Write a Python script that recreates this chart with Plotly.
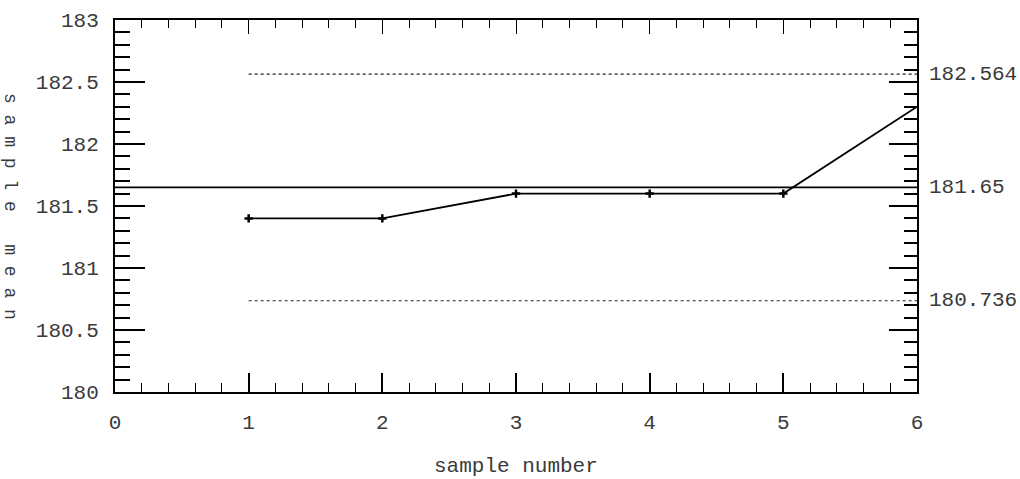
import plotly.graph_objects as go

# Sample means per sample number
sample_no = [1, 2, 3, 4, 5, 6]
sample_mean = [181.4, 181.4, 181.6, 181.6, 181.6, 182.3]

# Control chart limits
center_line = 181.65
upper_limit = 182.564
lower_limit = 180.736
limit_labels = ["182.564", "181.65", "180.736"]

FONT = dict(family="Liberation Mono, DejaVu Sans Mono, monospace", size=21, color="#3a3a3a")

fig = go.Figure()

# Centre line across the full width
fig.add_trace(go.Scatter(x=[0, 6], y=[center_line, center_line], mode="lines",
                         line=dict(color="black", width=1.6), hoverinfo="skip"))
# Dotted control limits
for lim in (upper_limit, lower_limit):
    fig.add_trace(go.Scatter(x=[1, 6], y=[lim, lim], mode="lines",
                             line=dict(color="#222", width=1.2, dash="dot"), hoverinfo="skip"))

# Sample means
fig.add_trace(go.Scatter(x=sample_no, y=sample_mean, mode="lines",
                         line=dict(color="black", width=1.8), hoverinfo="skip"))
fig.add_trace(go.Scatter(x=sample_no[:-1], y=sample_mean[:-1], mode="markers",
                         marker=dict(symbol="cross-thin", size=6, line=dict(color="black", width=2.5)),
                         hoverinfo="skip"))

# Dummy trace to bring up the mirrored axes
fig.add_trace(go.Scatter(x=[0], y=[180], xaxis="x2", yaxis="y2", mode="markers",
                         marker=dict(opacity=0), hoverinfo="skip"))

fig.update_layout(
    width=1020, height=479,
    margin=dict(l=115, r=103, t=20, b=87, autoexpand=False),
    paper_bgcolor="white", plot_bgcolor="white",
    showlegend=False,
    font=FONT,
    xaxis=dict(range=[0, 6], dtick=1, tick0=0, ticks="inside", ticklen=19, tickwidth=1.5,
               tickcolor="black", showgrid=False, zeroline=False, showline=True,
               linecolor="black", linewidth=2, mirror=False, ticklabelstandoff=10,
               tickfont=FONT, automargin=False,
               minor=dict(dtick=0.2, ticks="inside", ticklen=9, tickwidth=1.2,
                          tickcolor="black", showgrid=False)),
    yaxis=dict(range=[180, 183], dtick=0.5, tick0=180, ticks="inside", ticklen=30,
               tickwidth=1.5, tickcolor="black", showgrid=False, zeroline=False,
               showline=True, linecolor="black", linewidth=2, ticklabelstandoff=10,
               tickfont=FONT, automargin=False,
               minor=dict(dtick=0.1, ticks="inside", ticklen=15, tickwidth=1.5,
                          tickcolor="black", showgrid=False)),
    xaxis2=dict(range=[0, 6], overlaying="x", side="top", dtick=1, tick0=0,
                ticks="inside", ticklen=14, tickwidth=1.2, tickcolor="black",
                showticklabels=False, showgrid=False, zeroline=False, showline=True,
                linecolor="black", linewidth=2,
                minor=dict(dtick=0.2, ticks="inside", ticklen=8, tickwidth=1.2,
                           tickcolor="black", showgrid=False)),
    yaxis2=dict(range=[180, 183], overlaying="y", side="right", dtick=0.5, tick0=180,
                ticks="inside", ticklen=28, tickwidth=1.5, tickcolor="black",
                showticklabels=False, showgrid=False, zeroline=False, showline=True,
                linecolor="black", linewidth=2,
                minor=dict(dtick=0.1, ticks="inside", ticklen=13, tickwidth=1.5,
                           tickcolor="black", showgrid=False)),
)

# Limit values on the right side
for val, txt in zip((upper_limit, center_line, lower_limit), limit_labels):
    fig.add_annotation(x=1, xref="paper", y=val, yref="y", text=txt, showarrow=False,
                       xanchor="left", yanchor="middle", xshift=10, font=FONT)

# X-axis caption
fig.add_annotation(x=0.5, xref="paper", y=0, yref="paper", text="sample number",
                   showarrow=False, xanchor="center", yanchor="middle", yshift=-74,
                   font=FONT)

# Vertical y-axis caption
fig.add_annotation(x=0, xref="paper", y=0.5, yref="paper", text="s a m p l e   m e a n",
                   textangle=90, showarrow=False, xanchor="center", yanchor="middle",
                   xshift=-105, yshift=0,
                   font=dict(family=FONT["family"], size=18, color="#3a3a3a"))

fig.write_html("out.html")
